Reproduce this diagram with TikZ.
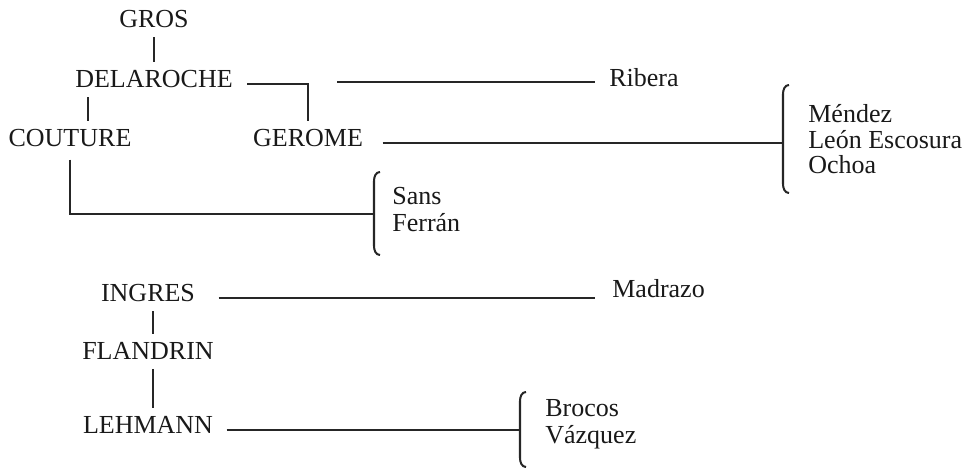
\documentclass[tikz,border=0pt]{standalone}
\usepackage{fontspec}
\setmainfont{Liberation Serif}
\newcommand{\brak}[3]{\draw[link] (#1+6,#2) to[out=180,in=90] (#1,#2+9) -- (#1,#3-9) to[out=-90,in=180] (#1+6,#3);}
\begin{document}
\begin{tikzpicture}[x=0.02cm,y=-0.02cm,
  every node/.style={font=\fontsize{14.8}{15}\selectfont, text=black!90},
  master/.style={inner sep=0pt, outer sep=5pt, anchor=base},
  pupil/.style={inner sep=0pt, anchor=base west},
  link/.style={line width=1.15pt, black!85}]
\useasboundingbox (0,0) rectangle (968,469);
% masters
\node[master] (gros) at (154,28) {GROS};
\node[master] (delaroche) at (154,88) {DELAROCHE};
\node[master] (couture) at (70,147) {COUTURE};
\node[master] (gerome) at (308,147) {GEROME};
\node[master] (ingres) at (148,302) {INGRES};
\node[master] (flandrin) at (148,360) {FLANDRIN};
\node[master] (lehmann) at (148,434) {LEHMANN};
% pupils
\node[pupil] (ribera) at (609,87) {Ribera};
\foreach \nm/\txt/\yy in {mendez/Méndez/123, leon/León Escosura/149, ochoa/Ochoa/174}
  \node[pupil] (\nm) at (808,\yy) {\txt};
\foreach \nm/\txt/\yy in {sans/Sans/205, ferran/Ferrán/232}
  \node[pupil] (\nm) at (392,\yy) {\txt};
\node[pupil] (madrazo) at (612,298) {Madrazo};
\foreach \nm/\txt/\yy in {brocos/Brocos/417, vazquez/Vázquez/444}
  \node[pupil] (\nm) at (545,\yy) {\txt};
% brackets
\coordinate (mbr) at (783,140);
\coordinate (sbr) at (374,214);
\coordinate (bbr) at (520,428);
\brak{783}{85}{193}
\brak{374}{172}{255}
\brak{520}{392}{467}
% links
\draw[link] (gros) -- (delaroche);
\coordinate (dc) at ([xshift=12pt]delaroche.south west);
\draw[link] (dc) -- (dc |- couture.north);
\draw[link, shorten <=3.4pt] (delaroche.mid east) -| (gerome.north);
\coordinate (ribstart) at (337,82);
\draw[link, shorten >=8pt] (ribstart) -- (ribstart -| ribera.west);
\draw[link, shorten <=6.2pt] (gerome.mid east) -- (gerome.mid east -| mbr);
\draw[link, shorten <=2pt] (couture.south) |- (sbr);
\draw[link, shorten <=8.5pt, shorten >=9.5pt] (ingres.mid east) -- (ingres.mid east -| madrazo.west);
\draw[link] ([xshift=3pt]ingres.south) -- ([xshift=3pt]flandrin.north);
\draw[link] ([xshift=3pt]flandrin.south) -- ([xshift=3pt]lehmann.north);
\draw[link, shorten <=2.8pt] (lehmann.mid east) -- (lehmann.mid east -| bbr);
\end{tikzpicture}
\end{document}
